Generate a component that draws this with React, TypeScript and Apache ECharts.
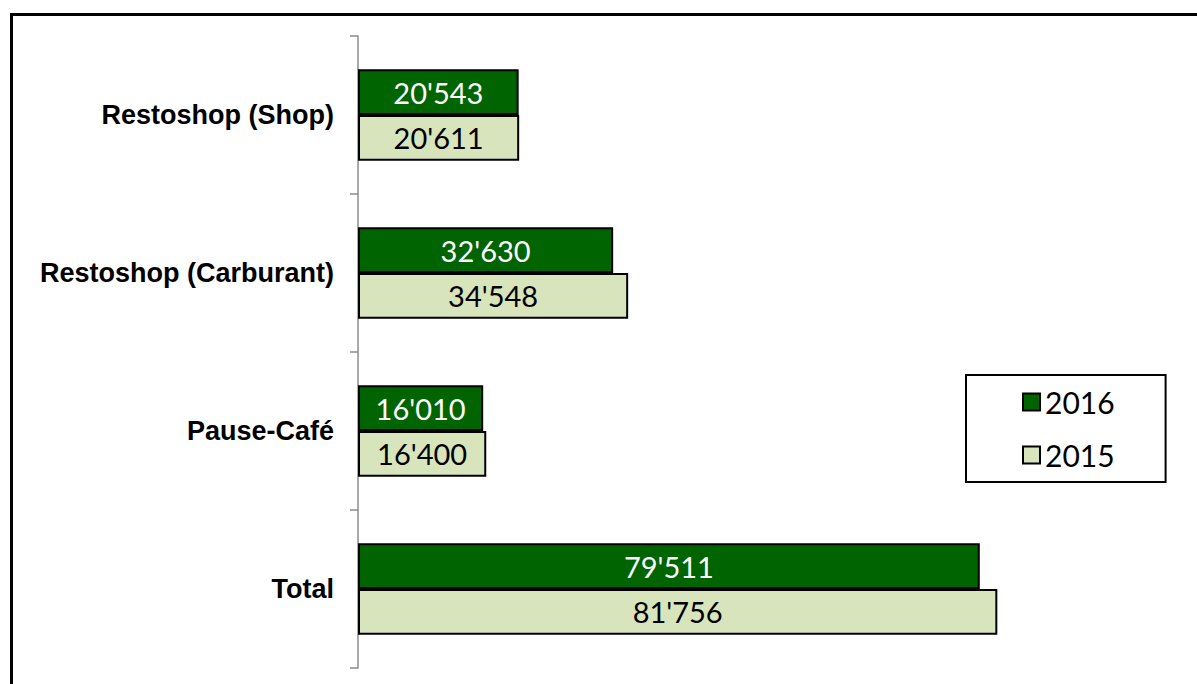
import React, { useEffect, useRef } from "react";
import * as echarts from "echarts";

const categories = ["Restoshop (Shop)", "Restoshop (Carburant)", "Pause-Café", "Total"];
const values2016 = [20543, 32630, 16010, 79511];
const values2015 = [20611, 34548, 16400, 81756];
const seriesNames = ["2016", "2015"];

const fmt = (v: number) => {
  const s = Math.round(v).toString();
  return s.replace(/\B(?=(\d{3})+(?!\d))/g, "'");
};

export default function App() {
  const ref = useRef<HTMLDivElement>(null);
  useEffect(() => {
    if (!ref.current) return;
    const chart = echarts.init(ref.current, null, { renderer: "svg" });
    const labelFont = "Lato, 'Open Sans', sans-serif";
    chart.setOption({
      animation: false,
      backgroundColor: "#ffffff",
      grid: { left: 358, top: 36, width: 782, height: 632, containLabel: false },
      xAxis: { type: "value", min: 0, max: 100000, show: false, splitLine: { show: false } },
      yAxis: {
        type: "category",
        data: categories,
        inverse: true,
        axisLine: { show: true, lineStyle: { color: "#8c8c8c", width: 1.5 } },
        axisTick: { show: true, length: 8, lineStyle: { color: "#8c8c8c", width: 1.5 } },
        axisLabel: {
          margin: 24,
          color: "#000",
          fontWeight: "bold",
          fontSize: 27,
          fontFamily: "'Liberation Sans', Arial, sans-serif",
        },
        splitLine: { show: false },
      },
      legend: {
        orient: "vertical",
        left: 966,
        top: 375,
        data: seriesNames,
        icon: "rect",
        itemWidth: 17,
        itemHeight: 17,
        itemGap: 23,
        borderColor: "#000",
        borderWidth: 2,
        padding: [12, 51, 12, 56],
        textStyle: { fontSize: 30, lineHeight: 30, fontFamily: labelFont, color: "#000" },
      },
      series: [
        {
          name: seriesNames[0],
          type: "bar",
          data: values2016,
          barGap: "0%",
          barCategoryGap: "42%",
          itemStyle: { color: "#006400", borderColor: "#000", borderWidth: 2 },
          label: {
            show: true,
            position: "inside",
            color: "#ffffff",
            fontSize: 29,
            fontFamily: labelFont,
            formatter: (p: any) => fmt(p.value),
          },
        },
        {
          name: seriesNames[1],
          type: "bar",
          data: values2015,
          barGap: "0%",
          barCategoryGap: "42%",
          itemStyle: { color: "#d8e4bc", borderColor: "#000", borderWidth: 2 },
          label: {
            show: true,
            position: "inside",
            color: "#000000",
            fontSize: 29,
            fontFamily: labelFont,
            formatter: (p: any) => fmt(p.value),
          },
        },
      ],
      graphic: [
        {
          type: "rect",
          shape: { x: 11.5, y: 14.5, width: 1200, height: 700 },
          style: { fill: "none", stroke: "#000", lineWidth: 3 },
          silent: true,
        },
      ],
    });
    return () => chart.dispose();
  }, []);
  return (
    <div
      ref={ref}
      style={{ position: "fixed", left: 0, top: 0, width: 1197, height: 684 }}
    />
  );
}
